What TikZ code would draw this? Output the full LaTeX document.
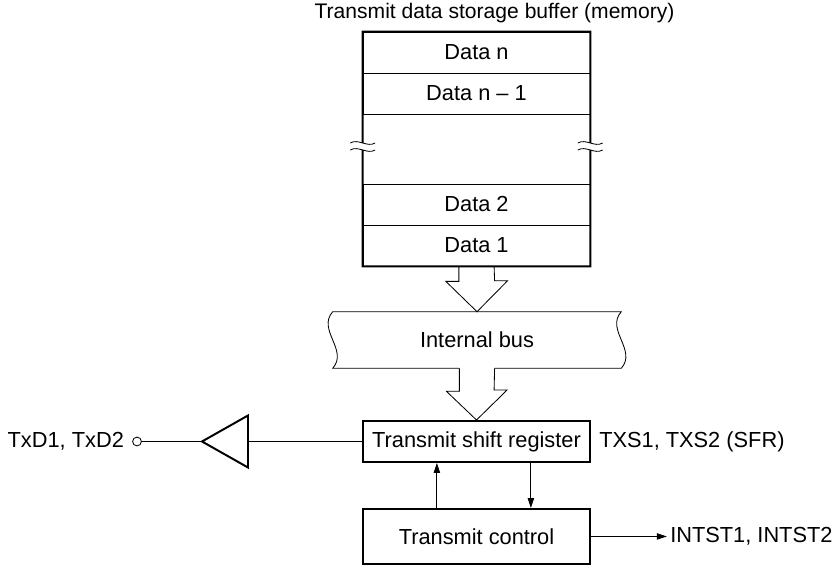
\documentclass[tikz,border=0pt]{standalone}
\usepackage{fontspec}
\setmainfont{Liberation Sans}
\usetikzlibrary{shapes.geometric, positioning, arrows.meta, calc}

\begin{document}
\begin{tikzpicture}[
    every node/.style={font=\fontsize{15.5pt}{18pt}\selectfont},
    row/.style={rectangle, draw, line width=0.6pt, minimum width=5.675cm,
        minimum height=1.025cm, inner sep=0},
    gapbox/.style={rectangle, minimum width=5.675cm, minimum height=1.75cm, inner sep=0},
    block/.style={rectangle, draw, line width=1.4pt, minimum width=5.675cm, inner sep=0},
    outer/.style={line width=1.4pt},
    brk/.style={line width=0.6pt},
    busline/.style={line width=0.6pt},
    hollow/.style={line width=0.6pt, line join=miter},
    pin/.style={circle, draw, line width=0.6pt, minimum size=0.22cm, inner sep=0},
    driver/.style={isosceles triangle, isosceles triangle stretches, shape border rotate=180,
        draw, line width=1.4pt, minimum width=1.3cm, minimum height=1.15cm, inner sep=0, outer sep=0},
    sig/.style={-{Triangle[length=2.5mm, width=1.6mm]}, line width=0.6pt},
    lbl/.style={inner sep=0}
]
\useasboundingbox (0,0) rectangle (20.8,14.175);

% --- Buffer (memory) ---
\node[row] (datan) at (11.9125,12.8625) {Data n};
\node[row] (datan1) at (11.9125,11.8375) {Data n -- 1};
\node[gapbox] (gap) at (11.9125,10.45) {};
\node[row] (data2) at (11.9125,9.0625) {Data 2};
\node[row] (data1) at (11.9125,8.0375) {Data 1};
\node[lbl, above=0.22cm of datan, xshift=0.45cm, font=\fontsize{15pt}{18pt}\selectfont] (title) {Transmit data storage buffer (memory)};

\draw[outer] ($(gap.west)+(0,0.15)$) -- (datan.north west) -- (datan.north east) -- ($(gap.east)+(0,0.15)$);
\draw[outer] ($(gap.west)+(0,-0.025)$) -- (data1.south west) -- (data1.south east) -- ($(gap.east)+(0,-0.025)$);

% --- Bruchlinien ---
\draw[brk] ($(gap.west)+(-0.31,0.15)$) .. controls +(0.2,0.12) and +(-0.2,-0.12) .. ($(gap.west)+(0.31,0.15)$);
\draw[brk] ($(gap.west)+(-0.31,-0.025)$) .. controls +(0.2,0.12) and +(-0.2,-0.12) .. ($(gap.west)+(0.31,-0.025)$);
\draw[brk] ($(gap.east)+(-0.31,0.15)$) .. controls +(0.2,0.12) and +(-0.2,-0.12) .. ($(gap.east)+(0.31,0.15)$);
\draw[brk] ($(gap.east)+(-0.31,-0.025)$) .. controls +(0.2,0.12) and +(-0.2,-0.12) .. ($(gap.east)+(0.31,-0.025)$);

% --- Internal bus ---
\node (bus) at (11.925,5.675) [minimum width=7.2cm, minimum height=1.4cm, inner sep=0] {Internal bus};
\draw[busline] (bus.north west) -- (bus.north east) .. controls +(-0.4,-0.45) and +(0.4,0.45) .. (bus.south east) -- ($(bus.south)+(0.44,0)$);
\draw[busline] ($(bus.south)+(-0.44,0)$) -- (bus.south west) .. controls +(0.4,0.45) and +(-0.4,-0.45) .. (bus.north west);

% --- Register / control ---
\node[block, minimum height=1.025cm] (reg) at (11.9125,3.1375) {Transmit shift register};
\node[block, minimum height=1.375cm] (ctrl) at (11.9125,0.7625) {Transmit control};
\node[lbl, right=0.2cm of reg] (txs) {TXS1, TXS2 (SFR)};
\node[lbl, anchor=west] (intst) at (16.75,0.7625) {INTST1, INTST2};

% --- Output ---
\node[driver, anchor=lower side] (drv) at (6.2,3.1375) {};
\node[pin] (txd) at (3.425,3.1375) {};
\node[lbl, left=0.2cm of txd] (txdlbl) {TxD1, TxD2};

% --- Hohlpfeile ---
\draw[hollow] ($(data1.south)+(-0.44,0)$) -- ++(0,-0.375) -- ++(-0.325,0) -- (bus.north)
    -- ++(0.765,0.775) -- ++(-0.325,0) -- ($(data1.south)+(0.44,0)$);
\draw[hollow] ($(bus.south)+(-0.44,0)$) -- ++(0,-0.575) -- ++(-0.325,0) -- (reg.north)
    -- ++(0.765,0.75) -- ++(-0.325,0) -- ($(bus.south)+(0.44,0)$);

% --- Signale ---
\draw[line width=0.6pt] (reg.west) -- (drv.lower side);
\draw[line width=0.6pt] (drv.apex) -- (txd.east);
\draw[sig] ($(ctrl.north)+(-0.99,0)$) -- ($(reg.south)+(-0.99,0)$);
\draw[sig] ($(reg.south)+(1.36,0)$) -- ($(ctrl.north)+(1.36,0)$);
\draw[sig] (ctrl.east) -- ($(intst.west)+(-0.08,0)$);

\end{tikzpicture}
\end{document}
